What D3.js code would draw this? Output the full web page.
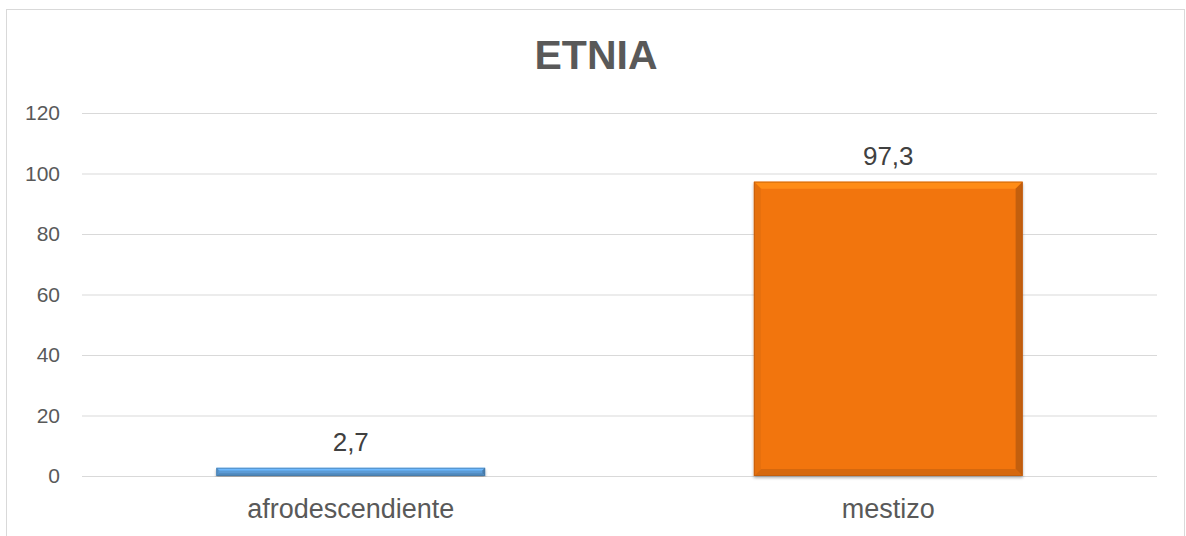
<!DOCTYPE html>
<html>
<head>
<meta charset="utf-8">
<script src="https://cdn.jsdelivr.net/npm/d3@7"></script>
<style>
  body { margin: 0; background: #fff; }
  text { font-family: "Liberation Sans", Arial, sans-serif; }
</style>
</head>
<body>
<svg id="chart" width="1186" height="536"></svg>
<script>
const categories = ["afrodescendiente", "mestizo"];
const values = [2.7, 97.3];
const valueLabels = ["2,7", "97,3"];
const barColors = ["#5b9bd5", "#f27510"];
const yTicks = [0, 20, 40, 60, 80, 100, 120];

const svg = d3.select("#chart");
const margin = { left: 82, right: 1157, top: 113, bottom: 476 };

// chart border
svg.append("rect")
  .attr("x", 6.5).attr("y", 9.5)
  .attr("width", 1178).attr("height", 540)
  .attr("fill", "#fff")
  .attr("stroke", "#d9d9d9");

const x = d3.scaleBand()
  .domain(categories)
  .range([margin.left, margin.right])
  .paddingInner(0.5)
  .paddingOuter(0.25);

const y = d3.scaleLinear()
  .domain([0, 120])
  .range([margin.bottom, margin.top]);

// gridlines
svg.append("g")
  .selectAll("line")
  .data(yTicks)
  .enter()
  .append("line")
  .attr("x1", margin.left)
  .attr("x2", margin.right)
  .attr("y1", (d) => y(d) + 0.5)
  .attr("y2", (d) => y(d) + 0.5)
  .attr("stroke", "#d9d9d9")
  .attr("stroke-width", 1);

// y axis labels
const yAxis = svg.append("g")
  .attr("transform", "translate(" + (margin.left - 22) + ",0)")
  .call(d3.axisLeft(y).tickValues(yTicks).tickSize(0).tickPadding(0));
yAxis.select(".domain").remove();
yAxis.selectAll("text")
  .attr("font-size", 21)
  .attr("fill", "#595959")
  .style("font-family", "'Liberation Sans', Arial, sans-serif");

// x axis labels
const xAxis = svg.append("g")
  .attr("transform", "translate(0," + margin.bottom + ")")
  .call(d3.axisBottom(x).tickSize(0).tickPadding(0));
xAxis.select(".domain").remove();
xAxis.selectAll("text")
  .attr("dy", null)
  .attr("y", 42)
  .attr("font-size", 27)
  .attr("fill", "#595959")
  .style("font-family", "'Liberation Sans', Arial, sans-serif");

// bevel shadow filter
const defs = svg.append("defs");
const f = defs.append("filter").attr("id", "shadow")
  .attr("x", "-5%").attr("y", "-5%").attr("width", "110%").attr("height", "115%");
f.append("feGaussianBlur").attr("in", "SourceAlpha").attr("stdDeviation", 1.5);
f.append("feOffset").attr("dx", 0).attr("dy", 2).attr("result", "b");
f.append("feComponentTransfer").append("feFuncA").attr("type", "linear").attr("slope", 0.3);
const fm = f.append("feMerge");
fm.append("feMergeNode");
fm.append("feMergeNode").attr("in", "SourceGraphic");

const data = categories.map((c, i) => ({ c, v: values[i], label: valueLabels[i], color: barColors[i] }));

const bars = svg.append("g")
  .selectAll("g.bar")
  .data(data)
  .enter()
  .append("g")
  .attr("class", "bar")
  .attr("filter", "url(#shadow)");

bars.each(function (d) {
  const g = d3.select(this);
  const x0 = x(d.c), w = x.bandwidth();
  const y0 = y(d.v), h = y(0) - y(d.v);
  const b = Math.min(7, h / 3);
  const base = d3.color(d.color);
  g.append("rect")
    .attr("x", x0).attr("y", y0).attr("width", w).attr("height", h)
    .attr("fill", d.color);
  // top bevel (light)
  g.append("path")
    .attr("d", `M${x0},${y0}L${x0 + w},${y0}L${x0 + w - b},${y0 + b}L${x0 + b},${y0 + b}Z`)
    .attr("fill", base.brighter(0.5));
  // right bevel (dark)
  g.append("path")
    .attr("d", `M${x0 + w},${y0}L${x0 + w},${y0 + h}L${x0 + w - b},${y0 + h - b}L${x0 + w - b},${y0 + b}Z`)
    .attr("fill", base.darker(0.6));
  // bottom bevel
  g.append("path")
    .attr("d", `M${x0},${y0 + h}L${x0 + w},${y0 + h}L${x0 + w - b},${y0 + h - b}L${x0 + b},${y0 + h - b}Z`)
    .attr("fill", base.darker(0.35));
  // left bevel
  g.append("path")
    .attr("d", `M${x0},${y0}L${x0 + b},${y0 + b}L${x0 + b},${y0 + h - b}L${x0},${y0 + h}Z`)
    .attr("fill", base.darker(0.15));
  g.append("rect")
    .attr("x", x0 + 0.5).attr("y", y0 + 0.5).attr("width", w - 1).attr("height", h - 1)
    .attr("fill", "none")
    .attr("stroke", base.darker(0.8))
    .attr("stroke-opacity", 0.6);
});

// value labels
svg.append("g")
  .selectAll("text")
  .data(data)
  .enter()
  .append("text")
  .attr("x", (d) => x(d.c) + x.bandwidth() / 2)
  .attr("y", (d) => y(d.v) - 17)
  .attr("text-anchor", "middle")
  .attr("font-size", 26)
  .attr("fill", "#404040")
  .text((d) => d.label);

// title
svg.append("text")
  .attr("x", 596)
  .attr("y", 69)
  .attr("text-anchor", "middle")
  .attr("font-size", 41)
  .attr("font-weight", "bold")
  .attr("fill", "#595959")
  .text("ETNIA");
</script>
</body>
</html>
